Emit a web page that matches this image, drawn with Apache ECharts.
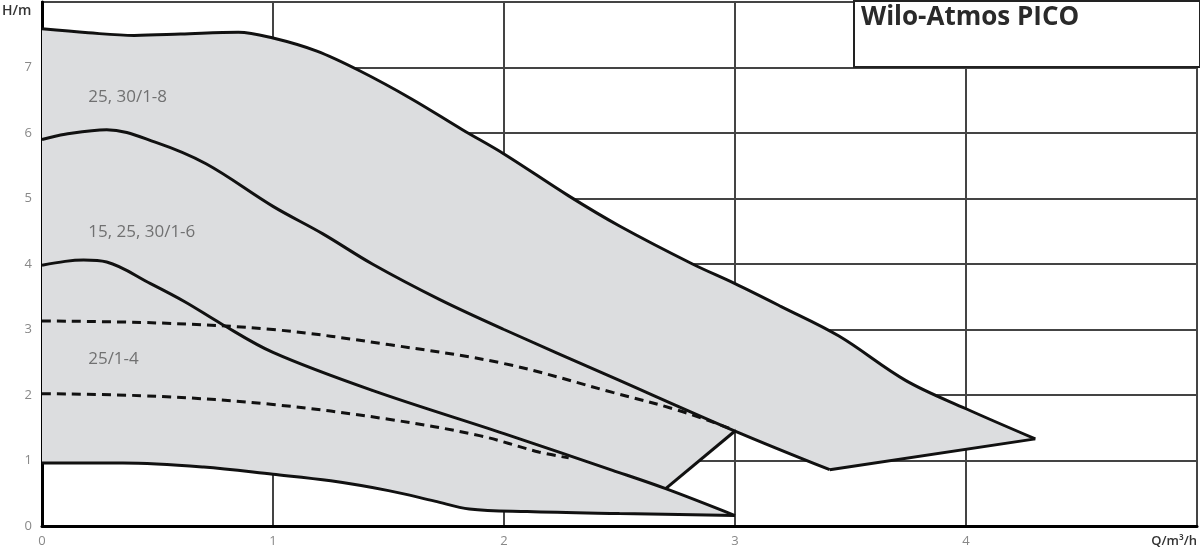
<!DOCTYPE html>
<html>
<head>
<meta charset="utf-8">
<script src="https://cdn.jsdelivr.net/npm/echarts@6/dist/echarts.min.js"></script>
<style>html,body{margin:0;padding:0;background:#fff}#c{width:1200px;height:554px}</style>
</head>
<body>
<div id="c"></div>
<script>
// Tick labels
const xTicks = [0, 1, 2, 3, 4];
const yTicks = [0, 1, 2, 3, 4, 5, 6, 7];

// Max curve of 25, 30/1-8
const qA = [0, 0.2, 0.4, 0.6, 0.85, 1.0, 1.19, 1.375, 1.6, 1.82, 2.0, 2.28, 2.5, 2.816, 3.0, 3.2, 3.45, 3.74, 4.0, 4.30];
const hA = [7.59, 7.53, 7.49, 7.51, 7.54, 7.45, 7.25, 6.95, 6.52, 6.05, 5.68, 5.04, 4.58, 4.0, 3.70, 3.35, 2.90, 2.22, 1.79, 1.33];
// closing edge of the 1-8 field
const qEdge = [4.30, 3.41];
const hEdge = [1.33, 0.86];
// Max curve of 15, 25, 30/1-6
const qB = [0, 0.1, 0.28, 0.49, 0.71, 1.0, 1.216, 1.43, 1.72, 2.0, 2.47, 3.0, 3.41];
const hB = [5.90, 5.98, 6.05, 5.86, 5.53, 4.88, 4.46, 4.0, 3.46, 3.0, 2.27, 1.45, 0.86];
// Max curve of 25/1-4
const qC = [0, 0.1, 0.18, 0.28, 0.47, 0.62, 0.77, 1.0, 1.43, 2.0, 2.47, 2.7, 3.0];
const hC = [3.98, 4.04, 4.06, 4.03, 3.70, 3.42, 3.10, 2.65, 2.07, 1.41, 0.85, 0.57, 0.16];
// diagonal edge of the 1-6 field
const qDiag = [2.7, 3.0];
const hDiag = [0.57, 1.45];
// Minimum curve
const qM = [0, 0.35, 0.7, 1.0, 1.25, 1.5, 1.7, 1.85, 2.1, 2.5, 3.0];
const hM = [0.96, 0.96, 0.90, 0.79, 0.69, 0.54, 0.38, 0.26, 0.22, 0.19, 0.16];
// Dashed curves
const qD1 = [0, 0.5, 1.0, 1.5, 2.0, 2.47, 2.76, 3.0];
const hD1 = [3.13, 3.10, 3.0, 2.77, 2.48, 2.04, 1.76, 1.46];
const qD2 = [0, 0.5, 1.0, 1.5, 1.894, 2.15, 2.28];
const hD2 = [2.02, 1.98, 1.855, 1.63, 1.38, 1.13, 1.04];

// Field labels
const fieldNames = ['25, 30/1-8', '15, 25, 30/1-6', '25/1-4'];
const fieldQ = [0.2, 0.2, 0.2];
const fieldH = [6.55, 4.48, 2.54];

const zip = (q, h) => q.map((v, i) => [v, h[i]]);

// Build the filled region
const fillPts = [];
zip(qA, hA).forEach(p => fillPts.push(p));
fillPts.push([qEdge[1], hEdge[1]]);
zip(qB, hB).filter(p => p[0] >= 3.0).reverse().forEach(p => fillPts.push(p));
fillPts.push([qDiag[0], hDiag[0]]);
zip(qC, hC).filter(p => p[0] >= 2.7).forEach(p => fillPts.push(p));
zip(qM, hM).reverse().forEach(p => fillPts.push(p));

const chart = echarts.init(document.getElementById('c'), null, {renderer: 'canvas'});
const lineSeries = (q, h, smooth, dashed) => ({
  type: 'line', data: zip(q, h), smooth: smooth, showSymbol: false, symbol: 'none',
  lineStyle: dashed ? {color: '#111', width: 3, type: [9, 6]} : {color: '#111', width: 3},
  z: 3, silent: true, animation: false
});

chart.setOption({
  animation: false,
  grid: {left: 42, right: 1, top: 2, bottom: 28, show: true, borderColor: '#222', borderWidth: 2, backgroundColor: 'transparent'},
  xAxis: {
    type: 'value', min: 0, max: 5, interval: 1,
    axisLine: {show: true, onZero: false, lineStyle: {color: '#000', width: 3}},
    axisTick: {show: false},
    splitLine: {show: true, lineStyle: {color: '#444', width: 2}},
    axisLabel: {color: '#888', fontSize: 13, fontFamily: 'Open Sans', margin: 9,
      formatter: v => xTicks.includes(v) ? String(v) : ''}
  },
  yAxis: {
    type: 'value', min: 0, max: 8, interval: 1,
    axisLine: {show: true, onZero: false, lineStyle: {color: '#000', width: 3}},
    axisTick: {show: false},
    splitLine: {show: true, lineStyle: {color: '#444', width: 2}},
    axisLabel: {color: '#888', fontSize: 13, fontFamily: 'Open Sans', margin: 10,
      formatter: v => yTicks.includes(v) ? String(v) : ''}
  },
  series: [
    {
      type: 'custom', coordinateSystem: 'cartesian2d', data: [[0, 0]], silent: true, z: 1,
      renderItem: (params, api) => ({
        type: 'polygon',
        shape: {points: fillPts.map(p => api.coord(p))},
        style: {fill: '#dcdddf', stroke: null}
      })
    },
    lineSeries(qA, hA, 0.35, false),
    lineSeries(qEdge, hEdge, false, false),
    lineSeries(qB, hB, 0.35, false),
    lineSeries(qC, hC, 0.35, false),
    lineSeries(qDiag, hDiag, false, false),
    lineSeries(qM, hM, 0.35, false),
    lineSeries(qD1, hD1, 0.35, true),
    lineSeries(qD2, hD2, 0.35, true),
    {
      type: 'scatter', symbolSize: 0, silent: true, z: 4,
      data: fieldNames.map((n, i) => ({name: n, value: [fieldQ[i], fieldH[i]]})),
      label: {show: true, position: 'right', distance: 0, formatter: p => p.name,
        color: '#555', fontSize: 17, fontFamily: 'Open Sans'}
    }
  ],
  graphic: [
    {type: 'rect', left: 853, top: 0, z: 100,
      shape: {width: 346, height: 66},
      style: {fill: '#fff', stroke: '#222', lineWidth: 2}},
    {type: 'text', left: 861, top: 5, z: 101,
      style: {text: 'Wilo-Atmos PICO', font: 'bold 26px "Open Sans"', fill: '#2a2a2a'}},
    {type: 'text', left: 2, top: 4, z: 101,
      style: {text: 'H/m', font: '600 14px "Open Sans"', fill: '#333'}},
    {type: 'text', right: 3, top: 535, z: 101,
      style: {text: 'Q/m³/h', font: '600 13px "Open Sans"', fill: '#333'}}
  ]
});
</script>
</body>
</html>
